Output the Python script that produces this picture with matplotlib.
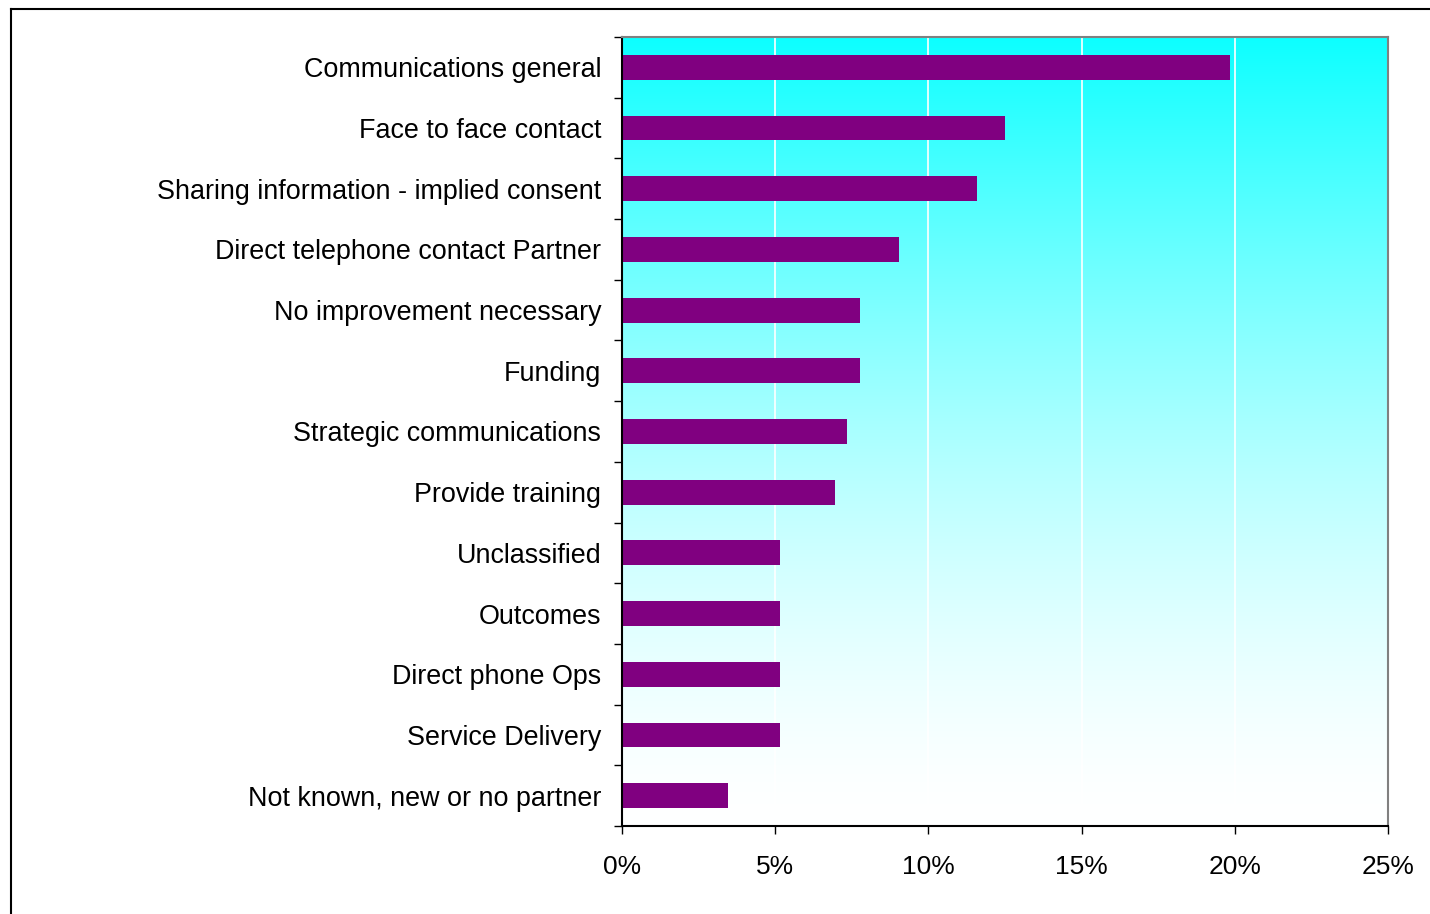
import matplotlib.pyplot as plt
import numpy as np
from matplotlib.lines import Line2D
from matplotlib.ticker import FuncFormatter, FixedLocator

plt.rcParams['font.family'] = ['Liberation Sans', 'DejaVu Sans']

categories = ["Communications general", "Face to face contact",
              "Sharing information - implied consent", "Direct telephone contact Partner",
              "No improvement necessary", "Funding", "Strategic communications",
              "Provide training", "Unclassified", "Outcomes", "Direct phone Ops",
              "Service Delivery", "Not known, new or no partner"]
values = [19.85, 12.5, 11.6, 9.05, 7.75, 7.75, 7.35, 6.95, 5.15, 5.15, 5.15, 5.15, 3.45]

fig = plt.figure(figsize=(14.3, 9.14), dpi=100)
ax = fig.add_axes([0.435, 0.0963, 0.5357, 0.8632])

n = len(categories)
y = np.arange(n)

# cyan-to-white gradient background (lightens faster than linear)
t = np.linspace(0, 1, 256).reshape(-1, 1)
red = 1 - 0.95 * (1 - t) ** 1.5
img = np.dstack([red, np.ones_like(red), np.ones_like(red)])
ax.imshow(img, aspect='auto', extent=[0, 25, n - 0.5, -0.5], zorder=0, interpolation='bilinear')

for gx in [5, 10, 15, 20]:
    ax.axvline(gx, color='white', lw=1.2, zorder=1)

ax.barh(y, values, height=0.41, color='#800080', zorder=2)

ax.set_xlim(0, 25)
ax.set_ylim(n - 0.5, -0.5)

ax.set_xticks([0, 5, 10, 15, 20, 25])
ax.xaxis.set_major_formatter(FuncFormatter(lambda v, p: f"{int(v)}%"))
ax.tick_params(axis='x', direction='out', length=6, width=1, pad=15, labelsize=19, colors='black')

ax.set_yticks(y)
ax.set_yticklabels(categories)
ax.yaxis.set_minor_locator(FixedLocator(np.arange(-0.5, n, 1.0)))
ax.tick_params(axis='y', which='major', length=0, pad=15, labelsize=19.4)
ax.tick_params(axis='y', which='minor', direction='out', length=6, width=1)

ax.spines['left'].set_color('black')
ax.spines['bottom'].set_color('black')
ax.spines['top'].set_color('#808080')
ax.spines['right'].set_color('#808080')
for s in ax.spines.values():
    s.set_linewidth(1.5)
    s.set_zorder(3)

# outer chart border (cropped at right/bottom)
fig.add_artist(Line2D([10.5 / 1430, 1.0], [1 - 8.5 / 914, 1 - 8.5 / 914], color='black', lw=1.5))
fig.add_artist(Line2D([10.5 / 1430, 10.5 / 1430], [0.0, 1 - 8.5 / 914], color='black', lw=1.5))

fig.savefig('out.png', dpi=100)
